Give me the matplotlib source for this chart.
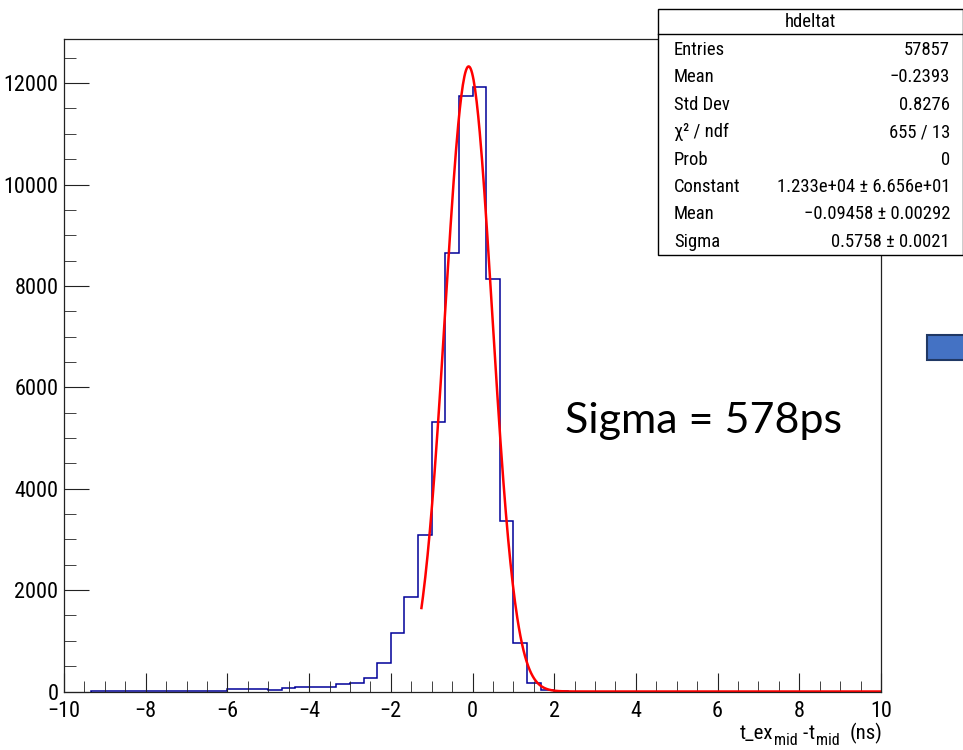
import numpy as np
import matplotlib
matplotlib.use("Agg")
import matplotlib.pyplot as plt
from matplotlib import font_manager
from matplotlib.patches import Rectangle
from matplotlib.lines import Line2D
from matplotlib.ticker import MultipleLocator

# ---------- data ----------
BIN_LO, BIN_HI, N_BINS = -10.0, 10.0, 60
COUNTS = [
    0, 0, 12, 12, 11, 13, 12, 13, 12, 14, 13, 14,        # -10 .. -6
    45, 45, 45, 20, 65, 92, 92, 88,                      # -6 .. -3.33
    150, 165, 270, 565, 1150, 1872, 3087, 5310,          # -3.33 .. -0.67
    8641, 11745, 11927, 8135, 3370, 952, 177, 33, 5,     # -0.67 .. 2.33
    0, 0, 0, 0, 0, 0, 0, 0, 0, 0, 0, 0,
    0, 0, 0, 0, 0, 0, 0, 0, 0, 0, 0,
]

# gaus fit result shown in the stats box
FIT_CONST = 1.233e4
FIT_MEAN = -0.09458
FIT_SIGMA = 0.5758
FIT_RANGE = (-1.25, 10.0)

STAT_TITLE = "hdeltat"
STAT_LABELS = ["Entries", "Mean", "Std Dev", "χ² / ndf", "Prob",
               "Constant", "Mean", "Sigma"]
STAT_VALUES = ["57857", "\u22120.2393", "0.8276", "655 / 13", "0",
               "1.233e+04 \u00b1 6.656e+01", "\u22120.09458 \u00b1 0.00292",
               "0.5758 \u00b1 0.0021"]

# x title pieces: (text, is_subscript, gap after in px)
XTITLE = [("t_ex", False, 1), ("mid", True, 4), ("-", False, 2),
          ("t", False, 1), ("mid", True, 9), ("(ns)", False, 0)]

# ---------- fonts: ROOT's helvetica looks squeezed, take a narrow face if there is one ----------
fonts = font_manager.fontManager.ttflist
names = {f.name for f in fonts}
stretch = "normal"
narrow = None
for cand in ["Liberation Sans Narrow", "Arial Narrow", "Roboto Condensed",
             "Open Sans Condensed", "Noto Sans Condensed"]:
    if cand in names:
        narrow = cand
        break
if narrow is None and any(f.name == "DejaVu Sans" and "condensed" in str(f.stretch).lower()
                          for f in fonts):
    narrow, stretch = "DejaVu Sans", "condensed"

if narrow:
    ROOT_FONT = narrow
    SZ_STAT, SZ_TICK, SZ_LAB, SZ_SUB = 13.4, 16, 15, 11.5
else:
    ROOT_FONT = "Liberation Sans"
    SZ_STAT, SZ_TICK, SZ_LAB, SZ_SUB = 12.3, 14.5, 14, 10.5

plt.rcParams["font.family"] = [ROOT_FONT, "DejaVu Sans"]
plt.rcParams["font.stretch"] = stretch
plt.rcParams["axes.unicode_minus"] = True

W, H = 963, 750
fig = plt.figure(figsize=(W / 100, H / 100), dpi=100)

def fx(x):
    return x / W

def fy(y):
    return 1 - y / H

ax = fig.add_axes([fx(64), fy(691.5), (881 - 64) / W, (691.5 - 39) / H])

edges = np.linspace(BIN_LO, BIN_HI, N_BINS + 1)
counts = np.array(COUNTS, dtype=float)
first = np.flatnonzero(counts)[0]
ax.stairs(counts[first:], edges[first:], color="#000099", lw=1.1, baseline=0)

xf = np.linspace(FIT_RANGE[0], FIT_RANGE[1], 600)
yf = FIT_CONST * np.exp(-0.5 * ((xf - FIT_MEAN) / FIT_SIGMA) ** 2)
ax.plot(xf, yf, color="#ff0000", lw=1.8)

ax.set_xlim(BIN_LO, BIN_HI)
ax.set_ylim(0, 12870)
ax.xaxis.set_major_locator(MultipleLocator(2))
ax.xaxis.set_minor_locator(MultipleLocator(0.5))
ax.yaxis.set_major_locator(MultipleLocator(2000))
ax.yaxis.set_minor_locator(MultipleLocator(500))
ax.tick_params(which="both", direction="in", top=False, right=False, colors="#222222",
               labelsize=SZ_TICK, labelcolor="black")
ax.tick_params(axis="y", which="major", length=17.8, pad=4)
ax.tick_params(axis="y", which="minor", length=8.9)
ax.tick_params(axis="x", which="major", length=14, pad=7)
ax.tick_params(axis="x", which="minor", length=8)
for s in ax.spines.values():
    s.set_color("#222222")
    s.set_linewidth(0.9)

# x title, ROOT style: subscripts sit low; laid out piece by piece, right end at x=882
renderer = fig.canvas.get_renderer()
pieces, widths = [], []
for txt, sub, gap in XTITLE:
    t = fig.text(0, 0, txt, ha="left", va="baseline", fontsize=SZ_SUB if sub else SZ_LAB)
    pieces.append((t, sub, gap))
    widths.append(t.get_window_extent(renderer).width)
total = sum(widths) + sum(g for _, _, g in XTITLE)
cur = 882 - total
for (t, sub, gap), w in zip(pieces, widths):
    t.set_position((fx(cur), fy(745 if sub else 739)))
    cur += w + gap

fig.text(fx(565), fy(421), "Sigma = 578ps", family=["Lato", "DejaVu Sans"],
         fontsize=31, ha="left", va="center")

# stats box
fig.patches.append(Rectangle((fx(658), fy(255)), (963 - 658) / W, (255 - 9.3) / H,
                             transform=fig.transFigure, facecolor="white",
                             edgecolor="black", lw=1, zorder=5))
fig.lines.append(Line2D([fx(658), fx(963)], [fy(34.3), fy(34.3)],
                        transform=fig.transFigure, color="black", lw=1, zorder=6))
fig.text(fx(810), fy(22), STAT_TITLE, ha="center", va="center", fontsize=SZ_STAT, zorder=7)
for k, (lab, val) in enumerate(zip(STAT_LABELS, STAT_VALUES)):
    yy = 50 + 27.4 * k
    fig.text(fx(674), fy(yy), lab, ha="left", va="center", fontsize=SZ_STAT, zorder=7)
    fig.text(fx(950), fy(yy), val, ha="right", va="center", fontsize=SZ_STAT, zorder=7)

# blue box at the right edge
fig.patches.append(Rectangle((fx(927), fy(360)), (975 - 927) / W, (360 - 335) / H,
                             transform=fig.transFigure, facecolor="#4472c4",
                             edgecolor="#203864", lw=1.5, zorder=5))

fig.savefig("out.png", dpi=100)
